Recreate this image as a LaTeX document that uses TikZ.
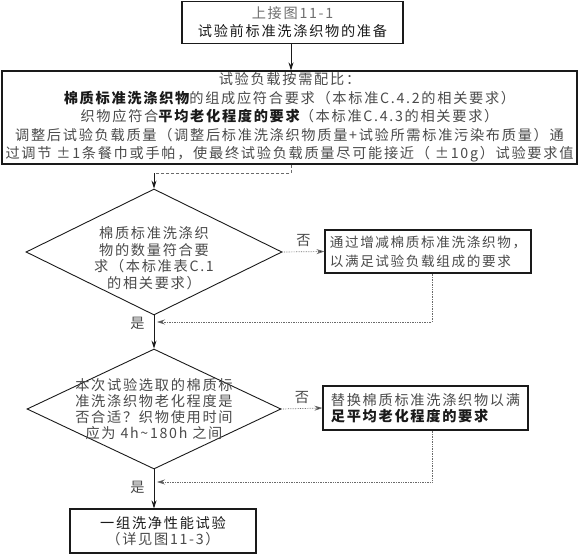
\documentclass[tikz,border=0pt]{standalone}
\usepackage{fontspec}
\setmainfont{Noto Sans CJK SC}[LetterSpace=12]
\usetikzlibrary{arrows.meta,shapes.geometric}
\definecolor{txt}{HTML}{4A4A4A}
\definecolor{dark}{HTML}{1A1A1A}
\definecolor{ln}{HTML}{6A6A6A}
\tikzset{
  box/.style={draw=dark, line width=1.1pt, inner sep=0pt, text=txt},
  dia/.style={draw=dark, line width=0.9pt, diamond, inner sep=0pt},
  tx/.style={text=txt, inner sep=0pt, align=center},
  main/.style={draw=dark, line width=0.8pt, -{Stealth[length=8pt,width=5pt]}},
  fb/.style={draw=ln, line width=0.7pt, densely dotted, -{Stealth[length=8pt,width=5pt,fill=dark]}},
  lbl/.style={text=txt, inner sep=0pt},
  f/.style={font=\fontsize{14.2}{#1}\selectfont},
}
\begin{document}
\begin{tikzpicture}[x=1pt,y=-1pt]
\useasboundingbox (0,0) rectangle (581,554);
% top box
\node[box, minimum width=221pt, minimum height=42pt, align=center, f=18pt] (top) at (292.5,22.5)
  {\textcolor{txt!80}{上接图11-1}\\\textcolor{dark}{试验前标准洗涤织物的准备}};
% big box
\node[box, minimum width=575pt, minimum height=93pt, align=center, f=18.5pt] (big) at (289.5,117.5)
  {试验负载按需配比：\\
   \textcolor{dark}{\bfseries 棉质标准洗涤织物}的组成应符合要求（本标准C.4.2的相关要求）\\
   织物应符合\textcolor{dark}{\bfseries 平均老化程度的要求}（本标准C.4.3的相关要求）\\
   调整后试验负载质量（调整后标准洗涤织物质量+试验所需标准污染布质量）通\\
   过调节 ±1条餐巾或手帕，使最终试验负载质量尽可能接近（ ±10g）试验要求值};
% diamond 1
\node[dia, minimum width=256pt, minimum height=126pt] (d1) at (154,252) {};
\node[tx, f=16.5pt] (t1) at (154,258)
  {棉质标准洗涤织\\物的数量符合要\\求（本标准表C.1\\的相关要求）};
% box 2
\node[box, minimum width=206pt, minimum height=43pt, align=left,
      font=\fontsize{13.6}{19}\selectfont] (b2) at (428,251.5)
  {通过增减棉质标准洗涤织物，\\以满足试验负载组成的要求};
% diamond 2
\node[dia, minimum width=254pt, minimum height=120pt] (d2) at (154,409) {};
\node[tx, f=16pt] (t2) at (154,409)
  {本次试验选取的棉质标\\准洗涤织物老化程度是\\否合适？织物使用时间\\应为 4h\textasciitilde180h 之间};
% box 3
\node[box, minimum width=205pt, minimum height=44pt, align=left, f=15.5pt] (b3) at (425.5,408)
  {替换棉质标准洗涤织物以满\\\textcolor{dark}{\bfseries 足平均老化程度的要求}};
% box 4
\node[box, minimum width=186pt, minimum height=44pt, align=center, f=15.5pt] (b4) at (163,531)
  {\textcolor{dark}{一组洗净性能试验}\\（详见图11-3）};
% coordinates
\coordinate (c1) at (291,173);
\coordinate (c2) at (154,173);
\coordinate (c3) at (432,322);
\coordinate (c4) at (157,322);
\coordinate (c5) at (432,482);
\coordinate (c6) at (157,482);
% connectors
\draw[main] (top.south -| 291,0) -- (big.north -| 291,0);
\draw[draw=ln, line width=0.7pt, densely dashed] (big.south -| c1) -- (c1) -- (c2);
\draw[main] (c2) -- (d1.north);
\draw[fb] (d1.east) -- (b2.west) node[lbl, midway, above=5pt, f=14pt] {否};
\draw[main] (d1.south) -- (d2.north) node[lbl, pos=0.23, left=9pt, f=14pt] {是};
\draw[fb] (b2.south -| c3) -- (c3) -- (c4);
\draw[fb] (d2.east) -- (b3.west) node[lbl, midway, above=5pt, f=14pt] {否};
\draw[fb] (b3.south -| c5) -- (c5) -- (c6);
\draw[main] (d2.south) -- (b4.north -| d2.south) node[lbl, pos=0.45, left=9pt, f=14pt] {是};
\end{tikzpicture}
\end{document}
